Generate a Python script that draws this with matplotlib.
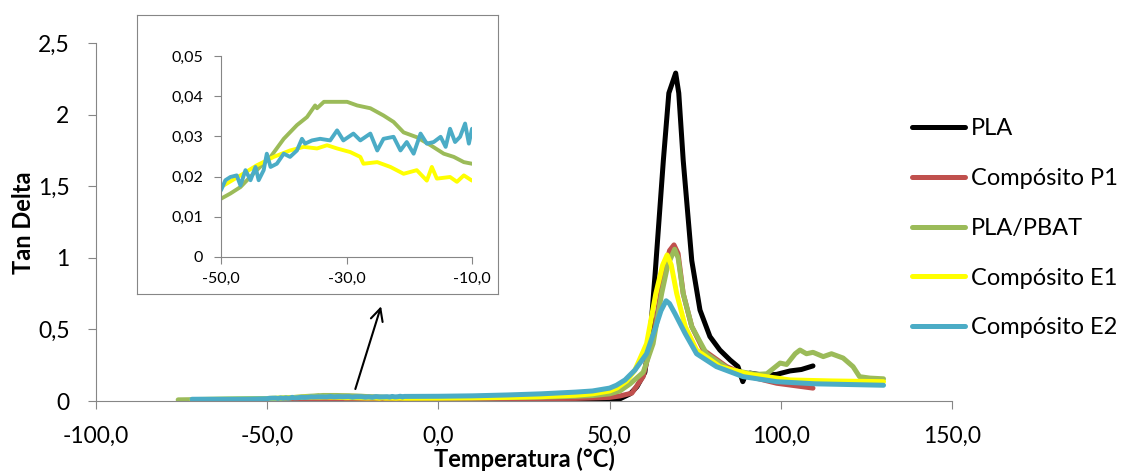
import matplotlib
matplotlib.use('Agg')
import matplotlib.pyplot as plt

plt.rcParams['font.family'] = ['Lato', 'DejaVu Sans']

# series: (temperature, tan delta)
pla_x = [19, 30, 40, 50, 53, 56, 58, 60.3, 62, 63.3, 65.7, 67.3, 69.3, 70.2, 71.5, 74,
         76.4, 79.3, 82.2, 85.2, 87.5, 88.9, 89.5, 91, 95, 98.8, 102.7, 106, 109.4]
pla_y = [0.0, 0.0, 0.003, 0.008, 0.015, 0.05, 0.1, 0.2, 0.5, 0.89, 1.68, 2.15, 2.29, 2.15,
         1.68, 0.98, 0.635, 0.45, 0.356, 0.286, 0.24, 0.135, 0.17, 0.195, 0.18, 0.186,
         0.21, 0.22, 0.245]

p1_x = [-70, -50, -30, -10, 0, 20, 40, 50, 53, 56.5, 59.8, 63.3, 65.7, 67.5, 68.8, 70,
        71.5, 74, 77.4, 84.2, 91, 98.8, 109.4]
p1_y = [0.008, 0.012, 0.015, 0.015, 0.015, 0.015, 0.018, 0.025, 0.035, 0.055, 0.17, 0.52,
        0.87, 1.05, 1.09, 1.03, 0.75, 0.52, 0.356, 0.24, 0.17, 0.124, 0.09]

pbat_x = [-76, -70, -60, -55, -50, -48.5, -46.9, -44.3, -42.1, -40, -37.9, -36.3, -35,
          -34.7, -33.6, -29.9, -28.3, -26.2, -24.1, -22.5, -20.9, -18.8, -16.6, -14.5,
          -12.9, -11.3, -10, 0, 10, 20, 30, 40, 45, 50, 53, 56, 59.8, 62.7, 65.2, 67, 69,
          70, 71.5, 74, 78.3, 85.2, 93, 95.9, 99.8, 101.7, 104.2, 105.6, 107.5, 109.4,
          112.4, 114.8, 118.2, 121.1, 123, 126, 130]
pbat_y = [0.008, 0.01, 0.012, 0.013, 0.0145, 0.0158, 0.0174, 0.0216, 0.0249, 0.0294,
          0.0328, 0.0348, 0.0377, 0.037, 0.0386, 0.0386, 0.0377, 0.037, 0.0352, 0.0336,
          0.031, 0.0298, 0.0278, 0.0257, 0.0249, 0.0236, 0.0232, 0.022, 0.022, 0.024,
          0.027, 0.033, 0.038, 0.05, 0.07, 0.12, 0.2, 0.40, 0.75, 0.95, 1.06, 1.0, 0.75,
          0.52, 0.33, 0.216, 0.186, 0.19, 0.265, 0.255, 0.33, 0.356, 0.33, 0.34, 0.31,
          0.33, 0.30, 0.24, 0.17, 0.16, 0.155]

e1_x = [-72, -65, -60, -55, -50, -46.9, -44.3, -41.6, -39, -36.8, -34.7, -33.1, -31.5,
        -29.4, -27.8, -27.3, -25.1, -23, -20.9, -18.8, -17.2, -16.4, -15.6, -13.5, -12.4,
        -11.3, -10, 0, 10, 20, 30, 40, 45, 50, 52.1, 55, 57.4, 60.8, 63.5, 65.5, 66.8, 68,
        69.6, 72.1, 75.4, 82.2, 91, 102.7, 115, 130]
e1_y = [0.01, 0.012, 0.014, 0.016, 0.0174, 0.0203, 0.0228, 0.0249, 0.0265, 0.0274, 0.027,
        0.0278, 0.027, 0.0261, 0.0249, 0.0232, 0.0236, 0.0224, 0.0207, 0.0216, 0.019,
        0.0224, 0.0195, 0.0199, 0.0187, 0.0203, 0.019, 0.02, 0.022, 0.025, 0.03, 0.04,
        0.05, 0.07, 0.09, 0.14, 0.216, 0.40, 0.75, 0.95, 1.02, 0.95, 0.75, 0.52, 0.356,
        0.24, 0.186, 0.147, 0.14, 0.135]

e2_x = [-72, -65, -60, -55, -50, -49.3, -48.5, -47.5, -46.9, -46.1, -45.3, -44.5, -44,
        -43.2, -42.7, -42.1, -41.1, -40, -39, -37.9, -37.1, -36.6, -35.5, -34.2, -32.6,
        -31.5, -30.5, -28.9, -27.8, -26.2, -25.1, -24.1, -22.5, -21.4, -20.4, -19.3,
        -18.2, -17.2, -16.1, -15, -14.2, -13.5, -12.7, -11.9, -11.1, -10.5, -10, 0, 10,
        20, 30, 40, 45, 50, 52, 54.5, 57.4, 60.8, 63.5, 65, 66.5, 67.5, 69.1, 72.1, 75.4,
        81.2, 89, 98.8, 110, 120, 130]
e2_y = [0.012, 0.013, 0.014, 0.015, 0.0166, 0.0191, 0.0199, 0.0203, 0.0178, 0.0216,
        0.0191, 0.0224, 0.0191, 0.0216, 0.0257, 0.0224, 0.0232, 0.0257, 0.0249, 0.0265,
        0.0294, 0.0282, 0.029, 0.0294, 0.029, 0.0315, 0.029, 0.0307, 0.029, 0.0307,
        0.0265, 0.0294, 0.0299, 0.0265, 0.0286, 0.0257, 0.0307, 0.0282, 0.0286, 0.0299,
        0.0274, 0.0319, 0.0286, 0.0299, 0.0332, 0.0282, 0.0319, 0.033, 0.036, 0.042,
        0.05, 0.062, 0.07, 0.09, 0.11, 0.147, 0.216, 0.33, 0.52, 0.63, 0.70, 0.68, 0.61,
        0.47, 0.33, 0.24, 0.17, 0.135, 0.12, 0.115, 0.11]

series = [
    ('PLA', pla_x, pla_y, '#000000'),
    ('Compósito P1', p1_x, p1_y, '#C0504D'),
    ('PLA/PBAT', pbat_x, pbat_y, '#9BBB59'),
    ('Compósito E1', e1_x, e1_y, '#FFFF00'),
    ('Compósito E2', e2_x, e2_y, '#4BACC6'),
]
inset_names = ['PLA/PBAT', 'Compósito E1', 'Compósito E2']

W, H = 1123, 475
fig = plt.figure(figsize=(W / 100, H / 100), dpi=100)

def px_box(l, t, r, b):
    return [l / W, (H - b) / H, (r - l) / W, (b - t) / H]

grey = '#868686'

ax = fig.add_axes(px_box(96, 43, 952, 401))
for name, xs, ys, c in series:
    ax.plot(xs, ys, color=c, lw=3.6, label=name, solid_capstyle='round')
ax.set_xlim(-100, 150)
ax.set_ylim(0, 2.5)
ax.set_xticks([-100, -50, 0, 50, 100, 150])
ax.set_xticklabels(['-100,0', '-50,0', '0,0', '50,0', '100,0', '150,0'])
ax.set_yticks([0, 0.5, 1, 1.5, 2, 2.5])
ax.set_yticklabels(['0', '0,5', '1', '1,5', '2', '2,5'])
for s in ['top', 'right']:
    ax.spines[s].set_visible(False)
for s in ['left', 'bottom']:
    ax.spines[s].set_color(grey)
ax.tick_params(colors=grey, labelcolor='black', labelsize=16.5, length=6, direction='out')
ax.tick_params(axis='x', pad=12)
ax.tick_params(axis='y', pad=13)
fig.text(524 / W, 1 - 467 / H, 'Temperatura (°C)', fontsize=17, fontweight='bold',
         ha='center', va='baseline')
fig.text(24 / W, 1 - 223 / H, 'Tan Delta', fontsize=17, fontweight='bold',
         rotation=90, ha='center', va='center')

leg = fig.legend(loc='upper left', bbox_to_anchor=(891 / W, 1 - 97 / H), frameon=False,
                 fontsize=17, handlelength=2.25, handletextpad=0.25, labelspacing=1.22)

ax.annotate('', xy=(-16.5, 0.68), xytext=(-24.5, 0.065),
            arrowprops=dict(arrowstyle='->', color='black', lw=1.5, mutation_scale=22))

# inset frame
frame = fig.add_axes(px_box(137, 15, 498, 294))
frame.set_xticks([])
frame.set_yticks([])
frame.patch.set_facecolor('white')
for s in frame.spines.values():
    s.set_color(grey)

ins = fig.add_axes(px_box(221, 56, 472, 257))
for name, xs, ys, c in series:
    if name in inset_names:
        ins.plot(xs, ys, color=c, lw=2.8)
ins.set_xlim(-50, -10)
ins.set_ylim(0, 0.05)
ins.set_xticks([-50, -30, -10])
ins.set_xticklabels(['-50,0', '-30,0', '-10,0'])
ins.set_yticks([0, 0.01, 0.02, 0.03, 0.04, 0.05])
ins.set_yticklabels(['0', '0,01', '0,02', '0,03', '0,04', '0,05'])
for s in ['top', 'right']:
    ins.spines[s].set_visible(False)
for s in ['left', 'bottom']:
    ins.spines[s].set_color(grey)
ins.patch.set_alpha(0)
ins.tick_params(colors=grey, labelcolor='black', labelsize=11.5, length=5, direction='out')
ins.tick_params(axis='x', pad=6)
ins.tick_params(axis='y', pad=8)

fig.savefig('out.png', dpi=100)
